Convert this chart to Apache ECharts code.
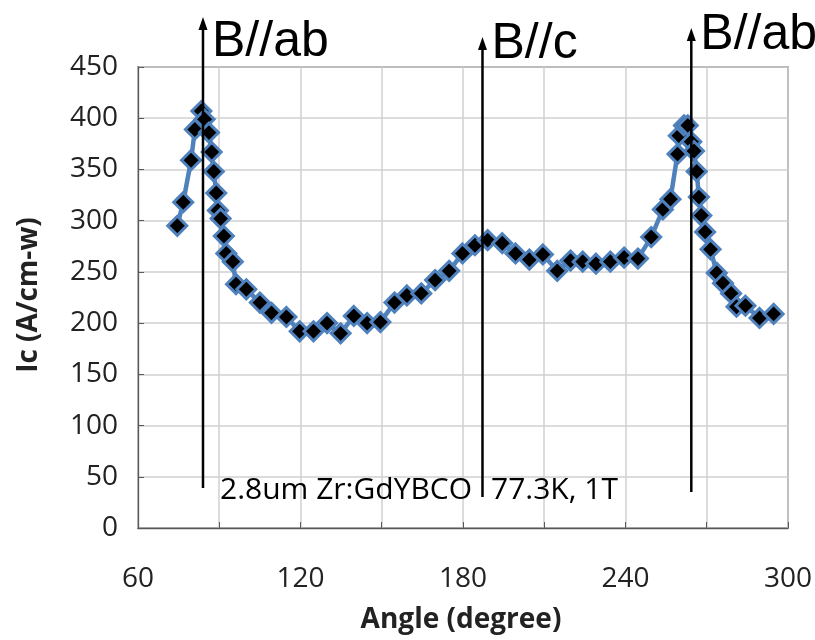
<!DOCTYPE html>
<html>
<head>
<meta charset="utf-8">
<script src="https://cdn.jsdelivr.net/npm/echarts@6/dist/echarts.min.js"></script>
<style>html,body{margin:0;padding:0;background:#fff}#c{width:815px;height:640px}</style>
</head>
<body>
<div id="c"></div>
<script>
const angles = [74.5,76.7,79.6,81.0,83.4,84.6,86.2,87.2,88.0,88.9,89.5,90.5,91.7,92.6,95.0,96.2,100.0,105.0,109.3,114.8,119.7,124.8,129.8,134.8,139.7,144.6,149.5,154.7,159.3,164.6,169.7,174.9,179.8,184.4,189.1,194.5,199.4,204.5,209.5,214.8,219.7,224.2,229.1,234.4,239.5,244.6,249.5,253.8,256.6,259.2,259.7,261.6,263.0,264.3,265.3,266.3,267.1,268.0,269.4,271.4,273.7,276.0,279.0,281.0,284.3,289.5,294.7];
const icValues = [295,318,359,389,407,399,386,367,348,327,310,302,285,268,260,238,233,220,210,206,192,192,200,190,207,200,201,220,227,229,242,251,268,276,281,278,268,262,267,251,261,260,258,260,264,263,284,311,321,365,383,393,393,377,368,348,323,305,289,272,249,239,229,216,217,205,209];
const xTicks = [60,120,180,240,300];
const yTicks = [0,50,100,150,200,250,300,350,400,450];
const markerAngles = [84, 187.2, 264.3];
const markerLabels = ['B//ab','B//c','B//ab'];
const noteParts = ['2.8um Zr:GdYBCO', '77.3K, 1T'];

const chart = echarts.init(document.getElementById('c'));
const tickFont = {fontFamily:'Open Sans', fontSize:28, color:'#222'};
chart.setOption({
  animation:false,
  grid:{left:138,right:24,top:67,bottom:112,show:true,borderColor:'#595959',borderWidth:1.3},
  xAxis:{type:'value',min:xTicks[0],max:xTicks[xTicks.length-1],interval:30,
    axisLine:{lineStyle:{color:'#595959',width:1.3}},
    axisTick:{inside:true,length:6,lineStyle:{color:'#595959'}},
    splitLine:{show:true,lineStyle:{color:'#d0d0d0',width:1.5}},
    axisLabel:Object.assign({margin:37,formatter:v=>xTicks.includes(v)?String(v):''},tickFont)},
  yAxis:{type:'value',min:yTicks[0],max:yTicks[yTicks.length-1],interval:50,
    axisLine:{show:true,lineStyle:{color:'#595959',width:1.3}},
    axisTick:{show:true,inside:true,length:6,lineStyle:{color:'#595959'}},
    splitLine:{show:true,lineStyle:{color:'#d0d0d0',width:1.5}},
    axisLabel:Object.assign({margin:20},tickFont)},
  series:[{type:'line',data:angles.map((a,i)=>[a,icValues[i]]),
    lineStyle:{color:'#4F81BD',width:4.5},
    symbol:'diamond',symbolSize:19,
    itemStyle:{color:'#000',borderColor:'#4F81BD',borderWidth:3},z:3}]
});

const tops=[17,37,28], bottoms=[488,497,492], textTops=[17,19,10];
const g=[];
markerAngles.forEach((a,i)=>{
  const x=chart.convertToPixel({xAxisIndex:0},a);
  g.push({type:'line',shape:{x1:x,y1:tops[i]+8,x2:x,y2:bottoms[i]},style:{stroke:'#000',lineWidth:2.5},z:10});
  g.push({type:'polygon',shape:{points:[[x-4.5,tops[i]+13],[x+4.5,tops[i]+13],[x,tops[i]]]},style:{fill:'#000'},z:10});
  g.push({type:'text',x:x+9,y:textTops[i],style:{text:markerLabels[i],font:'50px "Liberation Sans"',fill:'#000',textAlign:'left',textVerticalAlign:'top'},z:10});
});
g.push({type:'text',x:220,y:490,style:{text:noteParts[0],font:'30px "Open Sans"',fill:'#000',textAlign:'left',textVerticalAlign:'middle'},z:11});
g.push({type:'text',x:491,y:490,style:{text:noteParts[1],font:'30px "Open Sans"',fill:'#000',textAlign:'left',textVerticalAlign:'middle'},z:11});
g.push({type:'text',x:461,y:620,style:{text:'Angle (degree)',font:'bold 28px "Open Sans"',fill:'#222',textAlign:'center',textVerticalAlign:'middle'}});
g.push({type:'text',x:29,y:295,rotation:Math.PI/2,style:{text:'Ic (A/cm-w)',font:'bold 28px "Open Sans"',fill:'#222',textAlign:'center',textVerticalAlign:'middle'}});
chart.setOption({graphic:g});
</script>
</body>
</html>
